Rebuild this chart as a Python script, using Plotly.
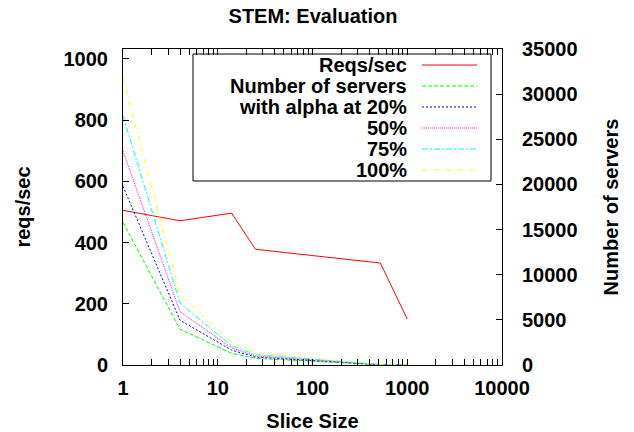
import plotly.graph_objects as go

# ---- data ----
slice_size = [1, 4, 14, 25, 520, 1000]
reqs_per_sec = [505, 471, 496, 378, 333, 150]
servers_base = [15800, 3950, 1300, 740, 31, 16]
servers_alpha20 = [19800, 4950, 1650, 880, 38, 20]
servers_alpha50 = [23700, 5900, 1900, 1000, 46, 24]
servers_alpha75 = [27600, 6850, 2150, 1150, 53, 28]
servers_alpha100 = [31800, 7750, 2500, 1300, 61, 32]

legend_labels = ["Reqs/sec", "Number of servers", "with alpha at 20%", "50%", "75%", "100%"]
x_tickvals = [1, 10, 100, 1000, 10000]
x_ticktext = ["1", "10", "100", "1000", "10000"]
y1_tickvals = [0, 200, 400, 600, 800, 1000]
y2_tickvals = [0, 5000, 10000, 15000, 20000, 25000, 30000, 35000]
y2_ticktext = ["0", "5000", "10000", "15000", "20000", "25000", "30000", "35000"]

# ---- styling ----
W, H = 634, 432
L, R, T, B = 123, 502, 49, 365
FONT = "Liberation Sans, Arial, sans-serif"

def px(x):
    return (x - L) / (R - L)

def py(y):
    return (B - y) / (B - T)

styles = [
    dict(color="#ff0000", dash="solid"),
    dict(color="#00ff00", dash="4px,2px"),
    dict(color="#0000ff", dash="2px,2px"),
    dict(color="#ff00ff", dash="1px,1px"),
    dict(color="#00ffff", dash="6px,2px,2px,2px"),
    dict(color="#ffff00", dash="5px,3px,1px,3px"),
]

series = [reqs_per_sec, servers_base, servers_alpha20, servers_alpha50,
          servers_alpha75, servers_alpha100]

fig = go.Figure()
for i, (name, ys, st) in enumerate(zip(legend_labels, series, styles)):
    fig.add_trace(go.Scatter(
        x=slice_size, y=ys, name=name, mode="lines",
        line=dict(color=st["color"], dash=st["dash"], width=1),
        yaxis="y" if i == 0 else "y2",
        showlegend=False,
    ))

# custom gnuplot-style legend (text right-aligned, sample to the right)
shapes = [dict(type="rect", xref="paper", yref="paper",
               x0=px(193), x1=px(491), y0=py(181), y1=py(54),
               line=dict(color="black", width=1), fillcolor="white", layer="below")]
annotations = []
row_y = [65, 86, 107, 128, 149, 170]
for name, st, yy in zip(legend_labels, styles, row_y):
    annotations.append(dict(
        text=name, xref="paper", yref="paper", x=px(409), y=py(yy),
        xanchor="right", yanchor="middle", showarrow=False,
        font=dict(family=FONT, size=20, color="black", weight="bold"),
    ))
    shapes.append(dict(type="line", xref="paper", yref="paper",
                       x0=px(422), x1=px(477), y0=py(yy), y1=py(yy),
                       line=dict(color=st["color"], dash=st["dash"], width=1)))

minor_vals = [m * 10 ** k for k in range(4) for m in range(2, 10)]

axis_font = dict(family=FONT, size=20, color="black", weight="bold")

fig.update_layout(
    width=W, height=H,
    margin=dict(l=L, r=W - R, t=T, b=H - B, autoexpand=False),
    paper_bgcolor="white", plot_bgcolor="white",
    font=axis_font,
    title=dict(text="STEM: Evaluation", x=px(313), xref="paper", xanchor="center",
               y=1 - 16 / H, yref="container", yanchor="middle",
               font=axis_font),
    xaxis=dict(
        type="log", range=[0, 4], tickvals=x_tickvals, ticktext=x_ticktext,
        ticks="inside", ticklen=6, tickcolor="black", showline=True,
        linecolor="black", linewidth=1, mirror="allticks", showgrid=False,
        zeroline=False, tickfont=axis_font, ticklabelstandoff=5,
        minor=dict(tickvals=minor_vals, ticks="inside", ticklen=3,
                   tickcolor="black", showgrid=False),
        title=dict(text="Slice Size", font=axis_font, standoff=16),
        automargin=False,
    ),
    yaxis=dict(
        range=[0, 1032], tickvals=y1_tickvals,
        ticks="inside", ticklen=6, tickcolor="black", showline=True,
        linecolor="black", linewidth=1, showgrid=False, zeroline=False,
        tickfont=axis_font, ticklabelstandoff=10,
        title=dict(text="reqs/sec", font=axis_font, standoff=27),
        automargin=False,
    ),
    yaxis2=dict(
        overlaying="y", side="right", range=[0, 35000],
        tickvals=y2_tickvals, ticktext=y2_ticktext,
        ticks="inside", ticklen=6, tickcolor="black", showline=True,
        linecolor="black", linewidth=1, showgrid=False, zeroline=False,
        tickfont=axis_font, ticklabelstandoff=15,
        title=dict(text="Number of servers", font=axis_font, standoff=27),
        automargin=False,
    ),
    shapes=shapes,
    annotations=annotations,
)

fig.write_html("out.html", config={"displayModeBar": False},
               post_script="document.body.style.margin='0';")
